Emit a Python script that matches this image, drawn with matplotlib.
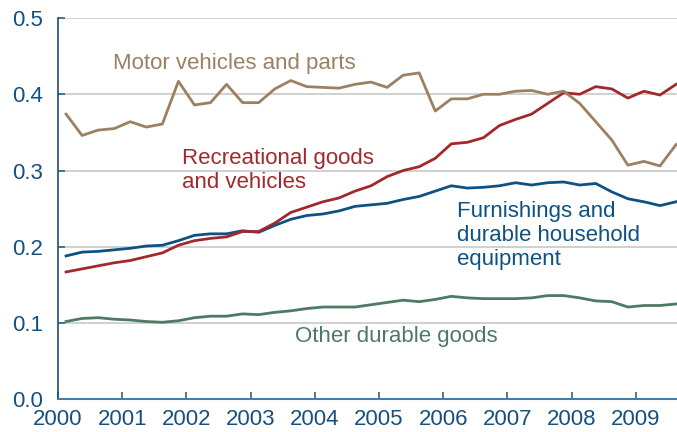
import numpy as np
import matplotlib
matplotlib.use('Agg')
import matplotlib.pyplot as plt

# quarterly data, 2000Q1 - 2009Q3, plotted at mid-quarter
quarters = 2000.125 + 0.25 * np.arange(39)

motor = [0.374, 0.346, 0.353, 0.355, 0.364, 0.357, 0.361, 0.417, 0.386, 0.389,
         0.413, 0.389, 0.389, 0.407, 0.418, 0.410, 0.409, 0.408, 0.413, 0.416,
         0.409, 0.425, 0.428, 0.378, 0.394, 0.394, 0.400, 0.400, 0.404, 0.405,
         0.400, 0.404, 0.388, 0.364, 0.340, 0.307, 0.312, 0.306, 0.334]
recreational = [0.167, 0.171, 0.175, 0.179, 0.182, 0.187, 0.192, 0.202, 0.208, 0.211,
                0.213, 0.220, 0.220, 0.231, 0.245, 0.252, 0.259, 0.264, 0.273, 0.280,
                0.292, 0.300, 0.305, 0.316, 0.335, 0.337, 0.343, 0.359, 0.367, 0.374,
                0.388, 0.402, 0.400, 0.410, 0.407, 0.395, 0.404, 0.399, 0.413]
furnishings = [0.188, 0.193, 0.194, 0.196, 0.198, 0.201, 0.202, 0.208, 0.215, 0.217,
               0.217, 0.221, 0.219, 0.228, 0.236, 0.241, 0.243, 0.247, 0.253, 0.255,
               0.257, 0.262, 0.266, 0.273, 0.280, 0.277, 0.278, 0.280, 0.284, 0.281,
               0.284, 0.285, 0.281, 0.283, 0.272, 0.263, 0.259, 0.254, 0.259]
other = [0.102, 0.106, 0.107, 0.105, 0.104, 0.102, 0.101, 0.103, 0.107, 0.109,
         0.109, 0.112, 0.111, 0.114, 0.116, 0.119, 0.121, 0.121, 0.121, 0.124,
         0.127, 0.130, 0.128, 0.131, 0.135, 0.133, 0.132, 0.132, 0.132, 0.133,
         0.136, 0.136, 0.133, 0.129, 0.128, 0.121, 0.123, 0.123, 0.125]

years = list(range(2000, 2010))
yticks = [0.0, 0.1, 0.2, 0.3, 0.4, 0.5]

c_motor = '#9C8062'
c_rec = '#A3282D'
c_furn = '#0E5283'
c_other = '#4E7A62'
c_tick = '#17507F'

plt.rcParams['font.family'] = ['Liberation Sans', 'DejaVu Sans']

fig = plt.figure(figsize=(6.77, 4.32), dpi=100)
ax = fig.add_axes([0.0857, 0.0757, 0.9143, 0.8826])

ax.plot(quarters, other, color=c_other, lw=2)
ax.plot(quarters, furnishings, color=c_furn, lw=2)
ax.plot(quarters, recreational, color=c_rec, lw=2)
ax.plot(quarters, motor, color=c_motor, lw=2)

ax.set_xlim(2000, 2009.64)
ax.set_ylim(0, 0.5)
ax.set_xticks(years)
ax.set_yticks(yticks)
ax.set_yticklabels(['%.1f' % v for v in yticks])
ax.yaxis.grid(True, color='#C8C8C8', lw=1.2)
ax.set_axisbelow(True)

for s in ['top', 'right']:
    ax.spines[s].set_visible(False)
ax.spines['left'].set_color('#1B4F7A')
ax.spines['bottom'].set_color('#4A7BA3')
ax.spines['left'].set_linewidth(1.2)
ax.spines['bottom'].set_linewidth(1.5)

ax.tick_params(axis='both', direction='in', length=5, width=1.2,
               colors='#2A628F', labelcolor=c_tick, labelsize=16)
ax.tick_params(axis='x', pad=7)
ax.tick_params(axis='y', pad=11)

ax.text(2000.86, 0.433, 'Motor vehicles and parts', color=c_motor, fontsize=16,
        va='baseline', ha='left')
ax.text(2001.93, 0.330, 'Recreational goods\nand vehicles', color=c_rec, fontsize=16,
        va='top', ha='left', linespacing=1.2)
ax.text(2006.22, 0.2606, 'Furnishings and\ndurable household\nequipment', color=c_furn,
        fontsize=16, va='top', ha='left', linespacing=1.2)
ax.text(2003.69, 0.0756, 'Other durable goods', color=c_other, fontsize=16,
        va='baseline', ha='left')

fig.savefig('out.png', dpi=100)
